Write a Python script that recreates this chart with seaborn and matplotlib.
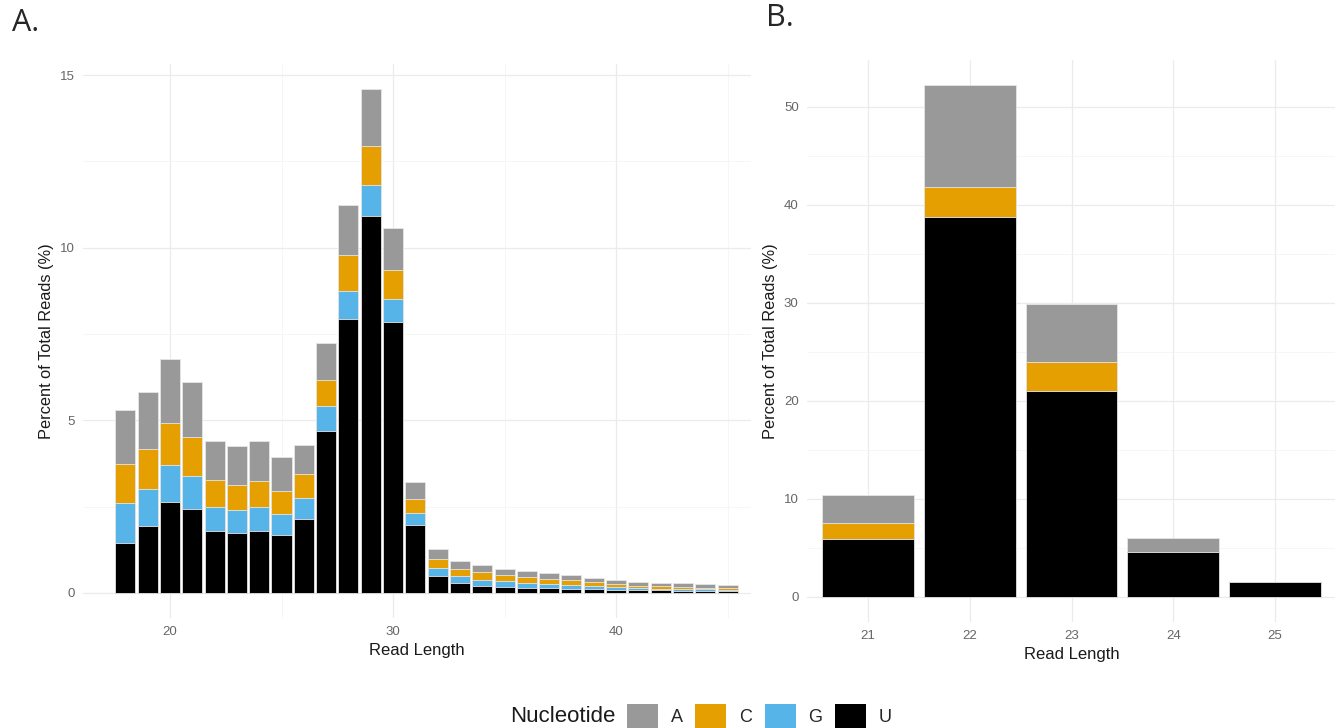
import numpy as np
import pandas as pd
import matplotlib
matplotlib.use("Agg")
import matplotlib.pyplot as plt
from matplotlib.patches import Patch
import seaborn as sns

# panel A: read lengths 18-45, percent of total reads per first nucleotide
len_a = list(range(18, 46))
a_A = [1.57, 1.66, 1.85, 1.61, 1.13, 1.12, 1.16, 0.96, 0.86, 1.08, 1.45, 1.64, 1.24, 0.51,
       0.29, 0.24, 0.21, 0.18, 0.17, 0.16, 0.15, 0.13, 0.12, 0.10, 0.10, 0.09, 0.10, 0.09]
a_C = [1.12, 1.17, 1.24, 1.13, 0.77, 0.72, 0.74, 0.67, 0.67, 0.76, 1.03, 1.13, 0.83, 0.40,
       0.25, 0.20, 0.21, 0.19, 0.17, 0.15, 0.13, 0.11, 0.09, 0.08, 0.07, 0.07, 0.05, 0.04]
a_G = [1.15, 1.07, 1.07, 0.95, 0.70, 0.67, 0.72, 0.62, 0.62, 0.72, 0.83, 0.90, 0.66, 0.35,
       0.23, 0.21, 0.17, 0.15, 0.13, 0.12, 0.11, 0.10, 0.08, 0.06, 0.05, 0.05, 0.04, 0.04]
a_U = [1.45, 1.93, 2.62, 2.43, 1.80, 1.73, 1.78, 1.67, 2.14, 4.69, 7.92, 10.92, 7.85, 1.96,
       0.49, 0.28, 0.21, 0.18, 0.15, 0.14, 0.12, 0.10, 0.09, 0.07, 0.07, 0.06, 0.06, 0.05]

# panel B: read lengths 21-25
len_b = [21, 22, 23, 24, 25]
b_A = [2.91, 10.42, 5.98, 1.46, 0.0]
b_C = [1.61, 2.99, 2.95, 0.0, 0.0]
b_G = [0.0, 0.0, 0.0, 0.0, 0.0]
b_U = [5.90, 38.81, 20.96, 4.52, 1.49]

nucs = ["A", "C", "G", "U"]
colors = {"A": "#999999", "C": "#E69F00", "G": "#56B4E9", "U": "#000000"}

sns.set_theme(style="white")
plt.rcParams["font.family"] = ["Liberation Sans", "DejaVu Sans"]

fig = plt.figure(figsize=(13.35, 7.28), dpi=100)
ax1 = fig.add_axes([83 / 1335, 1 - 618 / 728, 668 / 1335, 554 / 728])
ax2 = fig.add_axes([807 / 1335, 1 - 622 / 728, 529 / 1335, 562 / 728])


def stacked(ax, lengths, layers):
    # draw from the full stack down so U ends up at the bottom
    total = np.zeros(len(lengths))
    cums = {}
    for n in ["U", "G", "C", "A"]:
        total = total + np.array(layers[n])
        cums[n] = total.copy()
    for n in nucs:
        sns.barplot(x=lengths, y=cums[n], native_scale=True, color=colors[n],
                    width=0.9, errorbar=None, edgecolor="#e6e6e6", linewidth=0.6,
                    saturation=1, ax=ax, zorder=3)


stacked(ax1, len_a, {"A": a_A, "C": a_C, "G": a_G, "U": a_U})
stacked(ax2, len_b, {"A": b_A, "C": b_C, "G": b_G, "U": b_U})

ax1.set_xlim(16.1, 46.05)
ax1.set_ylim(-0.73, 15.32)
ax1.set_xticks([20, 30, 40])
ax1.set_xticks([25, 35, 45], minor=True)
ax1.set_yticks([0, 5, 10, 15])
ax1.set_yticks([2.5, 7.5, 12.5], minor=True)

ax2.set_xlim(20.4, 25.6)
ax2.set_ylim(-2.6, 54.8)
ax2.set_xticks(len_b)
ax2.set_yticks([0, 10, 20, 30, 40, 50])
ax2.set_yticks([5, 15, 25, 35, 45], minor=True)

for ax in (ax1, ax2):
    for s in ax.spines.values():
        s.set_visible(False)
    ax.grid(True, which="major", color="#ebebeb", linewidth=0.9, zorder=0)
    ax.grid(True, which="minor", color="#f3f3f3", linewidth=0.5, zorder=0)
    ax.set_axisbelow(True)
    ax.tick_params(which="both", length=0, labelsize=9.5, labelcolor="#666666", pad=6)
    ax.set_xlabel("Read Length", fontsize=12, color="#1a1a1a", labelpad=3)
    ax.set_ylabel("Percent of Total Reads (%)", fontsize=11.8, color="#1a1a1a", labelpad=4)
ax1.set_xticklabels(["20", "30", "40"])
ax2.set_xticklabels([str(v) for v in len_b])

fig.text(12 / 1335, 1 - 23 / 728, "A.", fontsize=22, va="center", ha="left",
         family=["Open Sans", "DejaVu Sans"])
fig.text(766 / 1335, 1 - 18 / 728, "B.", fontsize=22, va="center", ha="left",
         family=["Open Sans", "DejaVu Sans"])

fig.text(510 / 1335, 1 - 716 / 728, "Nucleotide", fontsize=16, va="center", ha="left",
         color="#1a1a1a")
handles = [Patch(facecolor=colors[n], edgecolor="none", label=n) for n in nucs]
fig.legend(handles=handles, ncol=4, loc="center left", frameon=False,
           bbox_to_anchor=(627 / 1335, 1 - 716 / 728), fontsize=13,
           handlelength=1.72, handleheight=1.6, handletextpad=0.7,
           columnspacing=0.7, borderpad=0, borderaxespad=0)

fig.savefig("out.png", dpi=100, facecolor="white")
